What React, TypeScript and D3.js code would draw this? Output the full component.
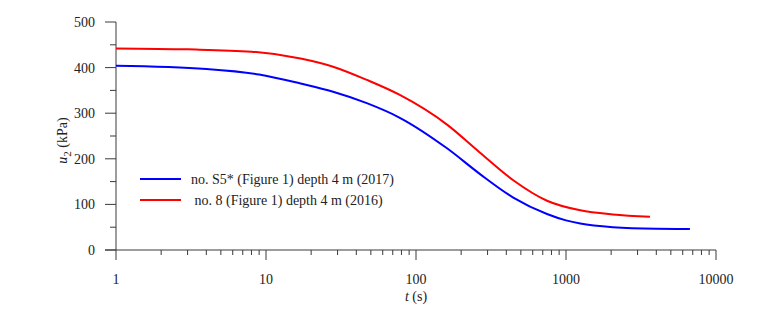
import React, { useEffect, useRef } from "react";
import * as d3 from "d3";

// time (s) and pore pressure u2 (kPa)
const s5Time = [1, 4, 9, 17, 28, 47, 78, 161, 266, 445, 747, 1000, 1245, 2050, 4000, 6700];
const s5U2 = [404, 397, 385, 365, 347, 322, 290, 223, 167, 115, 79, 65, 58, 50, 46.5, 46];

const no8Time = [1, 3, 8, 17, 28, 47, 78, 161, 266, 445, 747, 1245, 2050, 3630];
const no8U2 = [442, 440, 435, 420, 402, 373, 340, 275, 214, 153, 108, 87, 78, 73];

const seriesNames = [
  "no. S5* (Figure 1) depth 4 m (2017)",
  " no. 8 (Figure 1) depth 4 m (2016)"
];
const seriesColors = ["#0000ff", "#ff0000"];

const yTicks = [0, 100, 200, 300, 400, 500];
const yMinorTicks = [50, 150, 250, 350, 450];
const xTickLabels = ["1", "10", "100", "1000", "10000"];

const width = 765,
  height = 326;
const margin = { left: 116, right: 49, top: 22, bottom: 76 };

const App = () => {
  const ref = useRef(null);

  useEffect(() => {
    const svg = d3.select(ref.current);
    svg.selectAll("*").remove();
    const font = "'Liberation Serif', 'Times New Roman', serif";
    const axisColor = "#3a3a3a";

    const x = d3
      .scaleLog()
      .domain([1, 10000])
      .range([margin.left, width - margin.right]);
    const y = d3
      .scaleLinear()
      .domain([0, 500])
      .range([height - margin.bottom, margin.top]);

    const y0 = y(0);

    // y axis
    const gy = svg.append("g");
    gy.append("line")
      .attr("x1", x(1)).attr("x2", x(1))
      .attr("y1", y(500)).attr("y2", y0)
      .attr("stroke", axisColor);
    gy.selectAll(".major")
      .data(yTicks)
      .enter()
      .append("line")
      .attr("x1", x(1) - 11).attr("x2", x(1))
      .attr("y1", d => y(d)).attr("y2", d => y(d))
      .attr("stroke", axisColor);
    gy.selectAll(".minor")
      .data(yMinorTicks)
      .enter()
      .append("line")
      .attr("x1", x(1) - 6).attr("x2", x(1))
      .attr("y1", d => y(d)).attr("y2", d => y(d))
      .attr("stroke", axisColor);
    gy.selectAll("text")
      .data(yTicks)
      .enter()
      .append("text")
      .attr("x", x(1) - 21)
      .attr("y", d => y(d))
      .attr("dy", "0.35em")
      .attr("text-anchor", "end")
      .style("font-family", font)
      .style("font-size", "14px")
      .attr("fill", "#222")
      .text(d => d);

    // x axis
    const gx = svg.append("g");
    gx.append("line")
      .attr("x1", x(1) - 11).attr("x2", x(10000))
      .attr("y1", y0).attr("y2", y0)
      .attr("stroke", axisColor);
    const majors = xTickLabels.map(Number);
    const minors = [];
    majors.slice(0, -1).forEach(m => {
      for (let k = 2; k <= 9; k++) minors.push(m * k);
    });
    gx.selectAll(".major")
      .data(majors)
      .enter()
      .append("line")
      .attr("x1", d => x(d)).attr("x2", d => x(d))
      .attr("y1", y0).attr("y2", y0 + 10)
      .attr("stroke", axisColor);
    gx.selectAll(".minor")
      .data(minors)
      .enter()
      .append("line")
      .attr("x1", d => x(d)).attr("x2", d => x(d))
      .attr("y1", y0).attr("y2", y0 + 5)
      .attr("stroke", axisColor);
    gx.selectAll("text")
      .data(xTickLabels)
      .enter()
      .append("text")
      .attr("x", d => x(+d))
      .attr("y", y0 + 34)
      .attr("text-anchor", "middle")
      .style("font-family", font)
      .style("font-size", "14px")
      .attr("fill", "#222")
      .text(d => d);

    // axis titles
    const xt = svg
      .append("text")
      .attr("x", x(100))
      .attr("y", y0 + 51)
      .attr("text-anchor", "middle")
      .style("font-family", font)
      .style("font-size", "14px")
      .attr("fill", "#222");
    xt.append("tspan").style("font-style", "italic").text("t");
    xt.append("tspan").text(" (s)");

    const yt = svg
      .append("text")
      .attr("transform", `translate(67, ${y(240)}) rotate(-90)`)
      .attr("text-anchor", "middle")
      .style("font-family", font)
      .style("font-size", "14px")
      .attr("fill", "#222");
    yt.append("tspan").style("font-style", "italic").text("u");
    yt.append("tspan").attr("dy", 4).style("font-size", "11px").text("2");
    yt.append("tspan").attr("dy", -4).text(" (kPa)");

    // curves
    const line = d3
      .line()
      .x(d => x(d[0]))
      .y(d => y(d[1]))
      .curve(d3.curveMonotoneX);
    const series = [
      d3.zip(s5Time, s5U2),
      d3.zip(no8Time, no8U2)
    ];
    svg.selectAll(".curve")
      .data(series)
      .enter()
      .append("path")
      .attr("d", d => line(d))
      .attr("fill", "none")
      .attr("stroke", (d, i) => seriesColors[i])
      .attr("stroke-width", 2);

    // legend
    const lg = svg.append("g");
    seriesNames.forEach((name, i) => {
      const ly = 179 + i * 21;
      lg.append("line")
        .attr("x1", 140).attr("x2", 181)
        .attr("y1", ly).attr("y2", ly)
        .attr("stroke", seriesColors[i])
        .attr("stroke-width", 2);
      lg.append("text")
        .attr("x", 191)
        .attr("y", ly)
        .attr("dy", "0.35em")
        .style("font-family", font)
        .style("font-size", "14px")
        .style("white-space", "pre")
        .attr("fill", "#222")
        .text(name);
    });
  }, []);

  return (
    <svg
      ref={ref}
      width={width}
      height={height}
      style={{ position: "absolute", left: 0, top: 0, background: "#fff" }}
    />
  );
};

export default App;
